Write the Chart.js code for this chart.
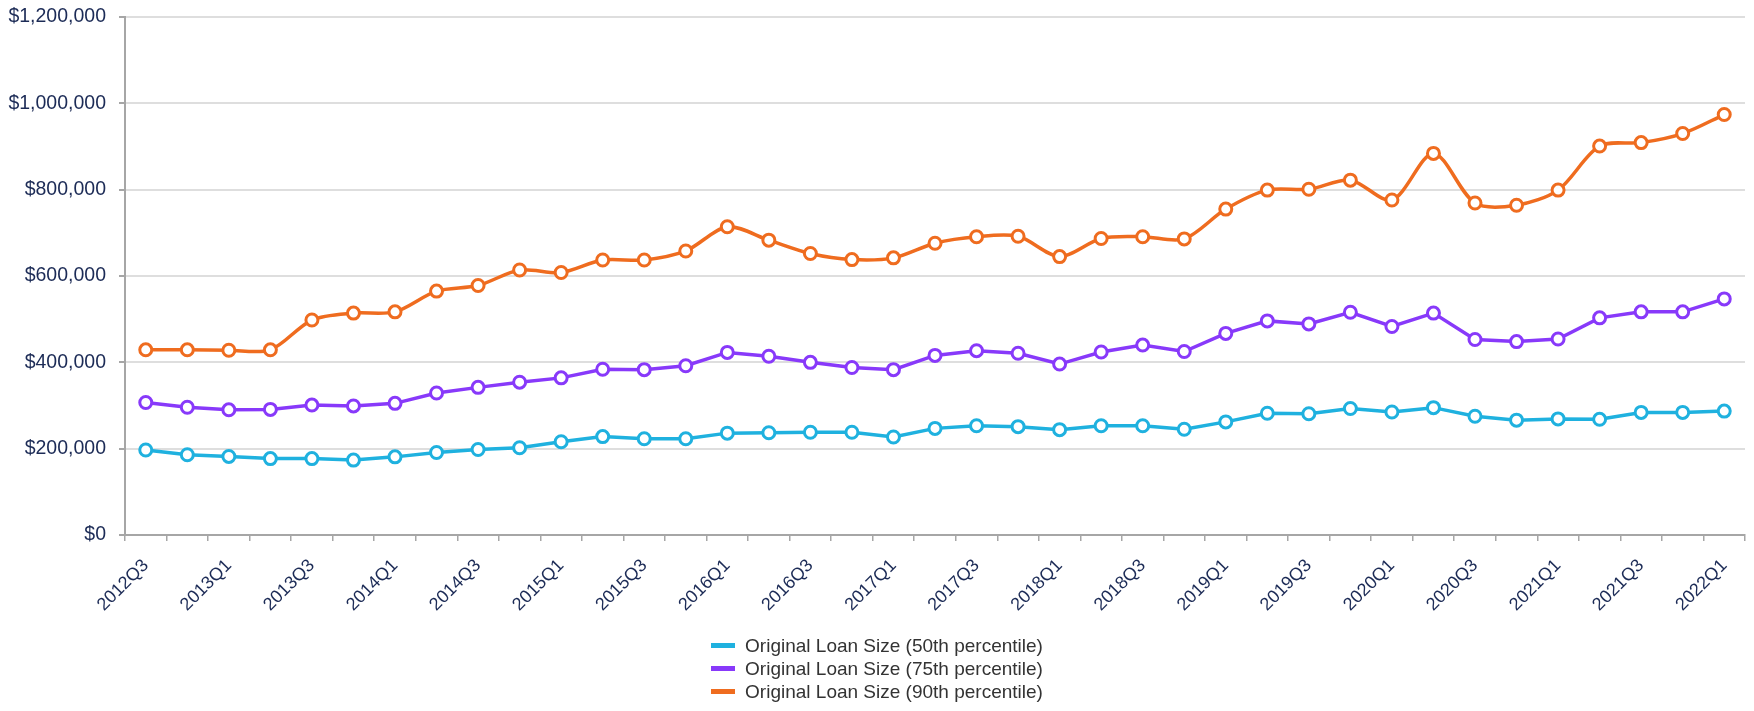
<!DOCTYPE html>
<html>
<head>
<meta charset="utf-8">
<script src="https://cdn.jsdelivr.net/npm/chart.js@4.4.1/dist/chart.umd.min.js"></script>
<style>
  html, body { margin: 0; padding: 0; background: #ffffff; }
  #wrap { position: relative; width: 1754px; height: 711px; }
  #chart { position: absolute; left: 0; top: 0; }
  #legend {
    position: absolute; left: 0; top: 634px; width: 1754px;
    display: flex; flex-direction: column; align-items: center;
    font-family: "Liberation Sans", Arial, sans-serif; font-size: 19px; color: #333333;
  }
  #legend ul { list-style: none; margin: 0; padding: 0; }
  #legend li { display: flex; align-items: center; height: 23px; }
  #legend .mark { width: 24px; height: 5px; margin-right: 10px; }
</style>
</head>
<body>
<div id="wrap">
  <canvas id="chart" width="1754" height="711"></canvas>
  <div id="legend"></div>
</div>
<script>
const quarters = [
  '2012Q3', '2012Q4',
  '2013Q1', '2013Q2', '2013Q3', '2013Q4',
  '2014Q1', '2014Q2', '2014Q3', '2014Q4',
  '2015Q1', '2015Q2', '2015Q3', '2015Q4',
  '2016Q1', '2016Q2', '2016Q3', '2016Q4',
  '2017Q1', '2017Q2', '2017Q3', '2017Q4',
  '2018Q1', '2018Q2', '2018Q3', '2018Q4',
  '2019Q1', '2019Q2', '2019Q3', '2019Q4',
  '2020Q1', '2020Q2', '2020Q3', '2020Q4',
  '2021Q1', '2021Q2', '2021Q3', '2021Q4',
  '2022Q1'
];

const seriesNames = [
  'Original Loan Size (50th percentile)',
  'Original Loan Size (75th percentile)',
  'Original Loan Size (90th percentile)'
];

const p50 = [
  197000, 186000, 182000, 177000, 177000, 173500, 181000, 191000, 198000, 202000,
  216000, 228000, 223000, 223000, 236000, 237000, 238000, 238000, 227000, 247000,
  253000, 251000, 244000, 253000, 253000, 245000, 262000, 282000, 281000, 293000,
  285000, 295000, 275000, 266000, 269000, 268000, 284000, 284000, 287000
];

const p75 = [
  307000, 296000, 290000, 291000, 301000, 299000, 305000, 329000, 342000, 354000,
  364000, 384000, 383000, 392000, 423000, 414000, 400000, 388000, 383000, 416000,
  427000, 421000, 396000, 424000, 440000, 425000, 467000, 496000, 489000, 516000,
  483000, 514000, 453000, 448000, 454000, 503000, 517000, 517000, 547000
];

const p90 = [
  429000, 429000, 428000, 429000, 498000, 514000, 517000, 565000, 578000, 614000,
  608000, 637000, 637000, 658000, 714000, 683000, 652000, 638000, 642000, 676000,
  691000, 692000, 645000, 687000, 691000, 686000, 755000, 799000, 801000, 822000,
  776000, 884000, 769000, 764000, 799000, 901000, 909000, 930000, 974000
];

const yTicks = [0, 200000, 400000, 600000, 800000, 1000000, 1200000];

const lineColors = ['#1fb1df', '#8839fa', '#ef6c1f'];

document.addEventListener('DOMContentLoaded', function() {
  const fontFamily = '"Liberation Sans", Arial, sans-serif';
  const navy = '#1c2b56';
  const axisGray = '#a6a6a6';

  function makeSet(name, values, color, tension) {
    return {
      label: name,
      data: values,
      borderColor: color,
      backgroundColor: color,
      borderWidth: 3.5,
      tension: tension,
      pointRadius: 6,
      pointHoverRadius: 6,
      pointBorderWidth: 3,
      pointBorderColor: color,
      pointBackgroundColor: '#ffffff',
      fill: false
    };
  }

  const dataChart = {
    labels: quarters,
    datasets: [
      makeSet(seriesNames[0], p50, lineColors[0], 0),
      makeSet(seriesNames[1], p75, lineColors[1], 0),
      makeSet(seriesNames[2], p90, lineColors[2], 0.3)
    ]
  };

  const config = {
    type: 'line',
    data: dataChart,
    options: {
      responsive: false,
      animation: false,
      layout: {
        padding: { top: 17, left: 0, right: 3, bottom: 96 }
      },
      plugins: {
        legend: { display: false },
        tooltip: { enabled: false }
      },
      scales: {
        x: {
          type: 'category',
          offset: true,
          border: { color: axisGray, width: 2 },
          grid: {
            offset: true,
            drawOnChartArea: false,
            tickLength: 6,
            color: axisGray,
            lineWidth: 1.5
          },
          afterFit: function(scale) {
            // fixed band under the plot for the slanted labels
            scale.height = 80;
            scale.paddingLeft = 0;
            scale.paddingRight = 0;
          },
          ticks: {
            autoSkip: false,
            minRotation: 45,
            maxRotation: 45,
            padding: 14,
            color: navy,
            font: { family: fontFamily, size: 18 },
            callback: function(value, index) {
              return index % 2 === 0 ? this.getLabelForValue(value) : '';
            }
          }
        },
        y: {
          min: yTicks[0],
          max: yTicks[yTicks.length - 1],
          border: { color: axisGray, width: 2 },
          grid: {
            color: '#dedede',
            lineWidth: 2,
            tickLength: 6,
            tickColor: axisGray
          },
          afterBuildTicks: function(scale) {
            scale.ticks = yTicks.map(v => ({ value: v }));
          },
          afterFit: function(scale) {
            scale.width = 125;
            scale.paddingTop = 0;
            scale.paddingBottom = 0;
          },
          ticks: {
            padding: 13,
            color: navy,
            font: { family: fontFamily, size: 19.5 },
            callback: function(value) {
              return '$' + Number(value).toLocaleString('en-US');
            }
          }
        }
      }
    }
  };

  const ctx = document.getElementById('chart').getContext('2d');
  const lineChart = new Chart(ctx, config);

  // legend stacked in rows, like the source picture
  const legendBox = document.getElementById('legend');
  const list = document.createElement('ul');
  lineChart.data.datasets.forEach(ds => {
    const li = document.createElement('li');
    const mark = document.createElement('span');
    mark.className = 'mark';
    mark.style.background = ds.borderColor;
    const txt = document.createElement('span');
    txt.textContent = ds.label;
    li.appendChild(mark);
    li.appendChild(txt);
    list.appendChild(li);
  });
  legendBox.appendChild(list);
});
</script>
</body>
</html>
